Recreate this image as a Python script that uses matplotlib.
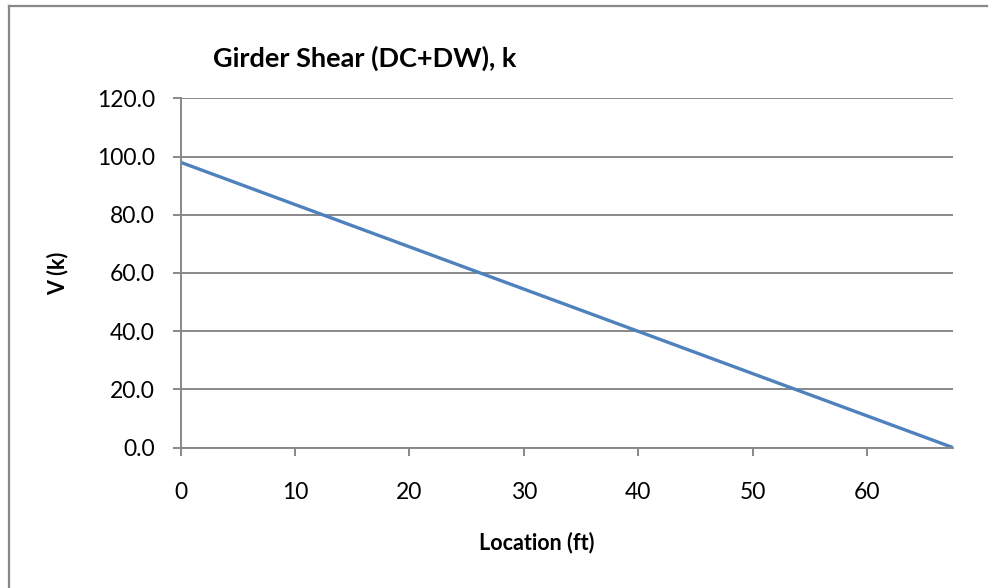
import numpy as np
import matplotlib.pyplot as plt
from matplotlib.lines import Line2D
from matplotlib.ticker import FormatStrFormatter

# girder shear at tenth points of the span
location_ft = [0.0, 6.75, 13.5, 20.25, 27.0, 33.75, 40.5, 47.25, 54.0, 60.75, 67.5]
shear_k = [98.0, 88.2, 78.4, 68.6, 58.8, 49.0, 39.2, 29.4, 19.6, 9.8, 0.0]
x_ticks = [0, 10, 20, 30, 40, 50, 60]
y_ticks = [0, 20, 40, 60, 80, 100, 120]

plt.rcParams['font.family'] = ['Lato', 'DejaVu Sans']

W, H = 997, 588
fig = plt.figure(figsize=(W / 100, H / 100), dpi=100)
ax = fig.add_axes([180.7 / W, 1 - 447.5 / H, 772 / W, 349.2 / H])

grey = '#888888'
ax.plot(location_ft, shear_k, color='#4f81bd', lw=2.4, solid_capstyle='round')

ax.set_xlim(0, 67.5)
ax.set_ylim(0, 120)
ax.set_xticks(x_ticks)
ax.set_yticks(y_ticks)
ax.yaxis.set_major_formatter(FormatStrFormatter('%.1f'))
ax.grid(axis='y', color=grey, lw=1.4)
ax.set_axisbelow(True)

for side in ['top', 'right']:
    ax.spines[side].set_visible(False)
for side in ['left', 'bottom']:
    ax.spines[side].set_color(grey)
    ax.spines[side].set_linewidth(1.4)

ax.tick_params(axis='both', colors=grey, labelcolor='black', labelsize=16.5,
               length=6, width=1.4, direction='out')
ax.tick_params(axis='x', pad=18.5)
ax.tick_params(axis='y', pad=12.5)

ax.set_xlabel('Location (ft)', fontsize=15.5, fontweight='bold')
ax.xaxis.set_label_coords((537 - 180.7) / 772, (447.5 - 543) / 349.2)
ax.xaxis.label.set_va('center')
ax.set_ylabel('V (k)', fontsize=15.5, fontweight='bold')
ax.yaxis.set_label_coords((58 - 180.7) / 772, (447.5 - 273) / 349.2)
ax.yaxis.label.set_va('center')

fig.text(213 / W, 1 - 58 / H, 'Girder Shear (DC+DW), k', fontsize=19.5,
         fontweight='bold', ha='left', va='center')

# chart frame
fig.add_artist(Line2D([8.5 / W, 8.5 / W], [0, 1 - 5.5 / H], color=grey, lw=1.6,
                      transform=fig.transFigure))
fig.add_artist(Line2D([8.5 / W, 987 / W], [1 - 5.5 / H, 1 - 5.5 / H], color=grey,
                      lw=1.6, transform=fig.transFigure))

fig.savefig('out.png', dpi=100, facecolor='white')
